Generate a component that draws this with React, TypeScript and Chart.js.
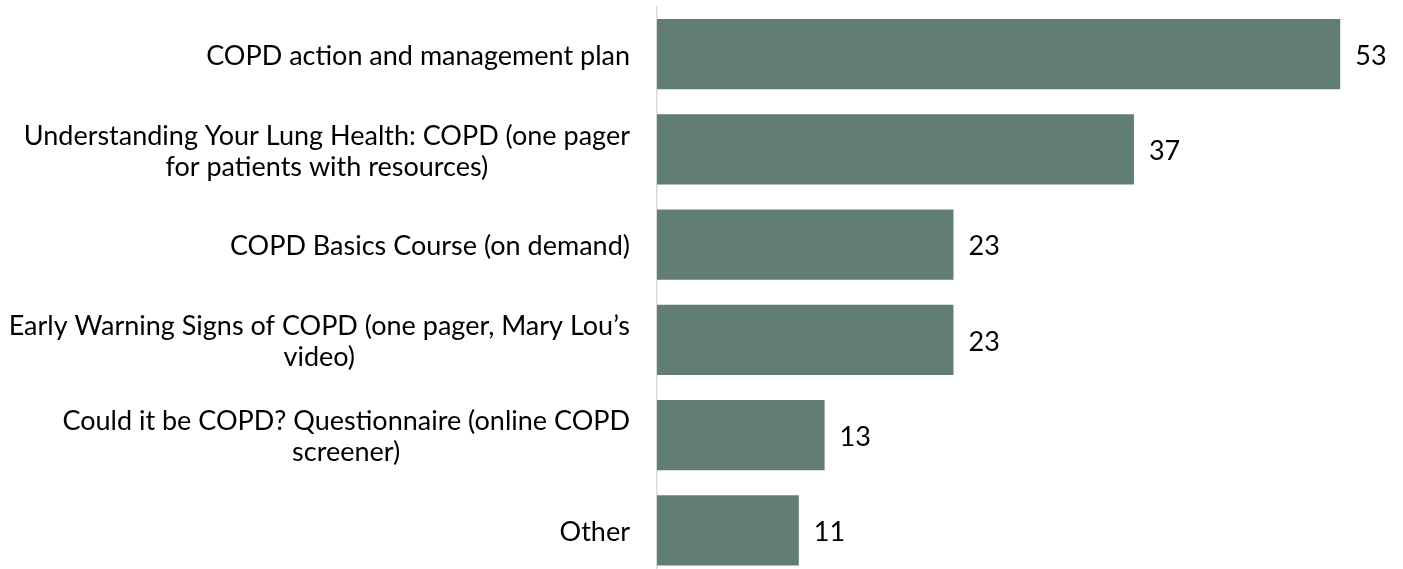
import React, { useEffect, useRef } from "react";
import { Chart, registerables } from "chart.js";

Chart.register(...registerables);

const categories: (string | string[])[] = [
  "COPD action and management plan",
  ["Understanding Your Lung Health: COPD (one pager", "for patients with resources)"],
  "COPD Basics Course (on demand)",
  ["Early Warning Signs of COPD (one pager, Mary Lou\u2019s", "video)"],
  ["Could it be COPD? Questionnaire (online COPD", "screener)"],
  "Other",
];
const values = [53, 37, 23, 23, 13, 11];

const BAR_COLOR = "#627c76";
const FONT_FAMILY = "Lato, 'Noto Sans', sans-serif";
const FONT_SIZE = 27;
const LINE_H = 31;

const labelPlugin = {
  id: "customLabels",
  afterDraw(chart: any) {
    const { ctx, chartArea } = chart;
    const yScale = chart.scales.y;
    const meta = chart.getDatasetMeta(0);
    ctx.save();
    ctx.font = `${FONT_SIZE}px ${FONT_FAMILY}`;
    ctx.fillStyle = "#000000";
    ctx.textBaseline = "middle";
    // category labels
    categories.forEach((lab, i) => {
      const lines = Array.isArray(lab) ? lab : [lab];
      const yc = yScale.getPixelForValue(i) + 2;
      const widest = Math.max(...lines.map((l) => ctx.measureText(l).width));
      const right = chartArea.left - 27;
      const cx = right - widest / 2;
      ctx.textAlign = "center";
      const startY = yc - ((lines.length - 1) * LINE_H) / 2;
      lines.forEach((l, k) => ctx.fillText(l, cx, startY + k * LINE_H));
    });
    // value labels
    ctx.textAlign = "left";
    meta.data.forEach((bar: any, i: number) => {
      ctx.fillText(String(values[i]), bar.x + 15, bar.y + 2);
    });
    ctx.restore();
  },
};

export default function App() {
  const ref = useRef<HTMLCanvasElement>(null);
  useEffect(() => {
    if (!ref.current) return;
    const chart = new Chart(ref.current, {
      type: "bar",
      data: {
        labels: categories.map((c) => (Array.isArray(c) ? c.join(" ") : c)),
        datasets: [
          {
            data: values,
            backgroundColor: BAR_COLOR,
            borderWidth: 0,
            categoryPercentage: 1,
            barPercentage: 0.735,
          },
        ],
      },
      plugins: [labelPlugin],
      options: {
        indexAxis: "y",
        animation: false,
        responsive: false,
        maintainAspectRatio: false,
        layout: { padding: { top: 6.5, bottom: 12, right: 37, left: 0 } },
        plugins: { legend: { display: false }, tooltip: { enabled: false }, title: { display: false } },
        scales: {
          x: { display: false, min: 0, max: 55 },
          y: {
            grid: { display: false },
            border: { display: true, color: "#d9d9d9", width: 1.5 },
            ticks: { display: false },
            afterFit: (s: any) => {
              s.width = 657;
            },
          },
        },
      },
    });
    return () => chart.destroy();
  }, []);
  return (
    <div style={{ position: "fixed", left: 0, top: 0, width: 1403, height: 569, overflow: "hidden", background: "#fff" }}>
      <canvas ref={ref} width={1403} height={590} style={{ width: 1403, height: 590, display: "block" }} />
    </div>
  );
}
